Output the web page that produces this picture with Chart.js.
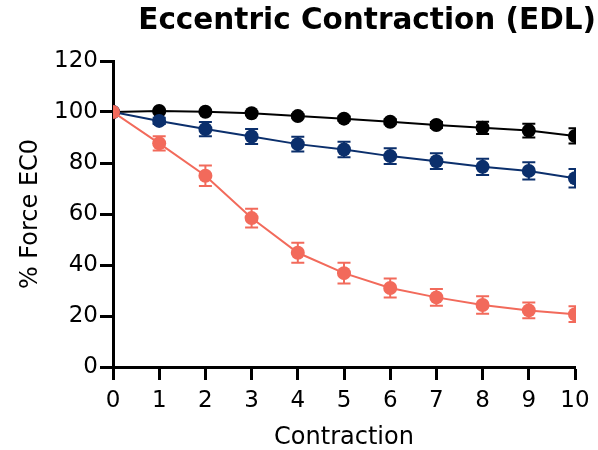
<!DOCTYPE html>
<html>
<head>
<meta charset="utf-8">
<script src="https://cdn.jsdelivr.net/npm/chart.js@4"></script>
<style>
  html, body { margin: 0; padding: 0; background: #fff; }
  #wrap { width: 598px; height: 450px; }
</style>
</head>
<body>
<div id="wrap"><canvas id="myChart" width="598" height="450"></canvas></div>
<script>
'use strict';

// Values (% of EC0 force, mean +/- error)
const contractions = [0, 1, 2, 3, 4, 5, 6, 7, 8, 9, 10];
const yTicks = [0, 20, 40, 60, 80, 100, 120];

const blackValues = [100, 100.4, 100.1, 99.5, 98.4, 97.4, 96.2, 94.9, 93.8, 92.7, 90.6];
const blackErrors = [0, 0.5, 0.5, 0.6, 0.7, 0.8, 1.0, 1.2, 2.4, 2.7, 3.0];

const blueValues = [100, 96.5, 93.3, 90.4, 87.4, 85.3, 82.7, 80.7, 78.5, 76.9, 74.0];
const blueErrors = [0, 1.2, 2.8, 2.9, 2.9, 3.0, 3.1, 3.1, 3.2, 3.4, 3.6];

const redValues = [100, 87.7, 75.0, 58.4, 44.8, 36.8, 31.0, 27.3, 24.3, 22.2, 20.7];
const redErrors = [0, 2.8, 4.0, 3.7, 3.9, 4.1, 3.7, 3.3, 3.4, 3.1, 3.1];

const FONT = "'DejaVu Sans', Verdana, sans-serif";
const BLACK = '#000000';
const BLUE = '#0b2f6c';
const RED = '#f26a5b';

function toPoints(values) {
  return values.map((v, i) => ({ x: contractions[i], y: v }));
}

function makeSet(label, values, errors, color) {
  return {
    label,
    data: toPoints(values),
    errors,
    borderColor: color,
    backgroundColor: color,
    borderWidth: 2,
    pointRadius: 7,
    pointHoverRadius: 7,
    pointBorderWidth: 0,
    pointBackgroundColor: color,
    tension: 0,
    fill: false,
  };
}

// Error bars drawn through the chart scales, under the markers,
// clipped to the plot area like the markers are
const errorBars = {
  id: 'errorBars',
  beforeDatasetsDraw(chart) {
    const ctx = chart.ctx;
    const area = chart.chartArea;
    const yScale = chart.scales.y;
    const capHalf = 6.5;
    ctx.save();
    ctx.beginPath();
    ctx.rect(area.left - 1, area.top - 1, area.width + 2, area.height + 2);
    ctx.clip();
    chart.data.datasets.forEach((ds, di) => {
      const meta = chart.getDatasetMeta(di);
      if (meta.hidden) return;
      ctx.strokeStyle = ds.borderColor;
      ctx.lineWidth = 2;
      meta.data.forEach((pt, i) => {
        const err = ds.errors[i];
        if (!err) return;
        const v = ds.data[i].y;
        const yTop = yScale.getPixelForValue(v + err);
        const yBot = yScale.getPixelForValue(v - err);
        ctx.beginPath();
        ctx.moveTo(pt.x, yTop);
        ctx.lineTo(pt.x, yBot);
        ctx.moveTo(pt.x - capHalf, yTop);
        ctx.lineTo(pt.x + capHalf, yTop);
        ctx.moveTo(pt.x - capHalf, yBot);
        ctx.lineTo(pt.x + capHalf, yBot);
        ctx.stroke();
      });
    });
    ctx.restore();
  },
};

const ctx = document.getElementById('myChart').getContext('2d');
const myChart = new Chart(ctx, {
  type: 'line',
  data: {
    // red first so it is painted on top at the shared starting point
    datasets: [
      makeSet('Red', redValues, redErrors, RED),
      makeSet('Blue', blueValues, blueErrors, BLUE),
      makeSet('Black', blackValues, blackErrors, BLACK),
    ],
  },
  plugins: [errorBars],
  options: {
    responsive: false,
    animation: false,
    layout: { padding: { left: 0, right: 2, top: 0, bottom: 0 } },
    plugins: {
      legend: { display: false },
      tooltip: { enabled: false },
      title: {
        display: true,
        text: 'Eccentric Contraction (EDL)',
        align: 'end',
        color: BLACK,
        font: { family: FONT, size: 29.5, weight: 'bold', lineHeight: 1.2 },
        padding: { top: 4, bottom: 21.6 },
      },
    },
    scales: {
      x: {
        type: 'linear',
        min: 0,
        max: 10,
        border: { color: BLACK, width: 3 },
        grid: {
          drawOnChartArea: false,
          tickLength: 13,
          tickWidth: 3,
          tickColor: BLACK,
        },
        ticks: {
          stepSize: 1,
          color: BLACK,
          padding: 7,
          font: { family: FONT, size: 23 },
        },
        title: {
          display: true,
          text: 'Contraction',
          color: BLACK,
          font: { family: FONT, size: 24, lineHeight: 1.0 },
          padding: { top: 0, bottom: 0 },
        },
        afterFit(scale) {
          scale.height = 83;
          scale.paddingRight = 23;
        },
      },
      y: {
        min: 0,
        max: 120,
        border: { color: BLACK, width: 3 },
        grid: {
          drawOnChartArea: false,
          tickLength: 13,
          tickWidth: 3,
          tickColor: BLACK,
        },
        afterBuildTicks(scale) {
          scale.ticks = yTicks.map(v => ({ value: v }));
        },
        ticks: {
          color: BLACK,
          padding: 2,
          font: { family: FONT, size: 23 },
        },
        title: {
          display: true,
          text: '% Force EC0',
          color: BLACK,
          font: { family: FONT, size: 24 },
          padding: { top: 16, bottom: 0 },
        },
        afterFit(scale) {
          scale.width = 113;
        },
      },
    },
  },
});
</script>
</body>
</html>
